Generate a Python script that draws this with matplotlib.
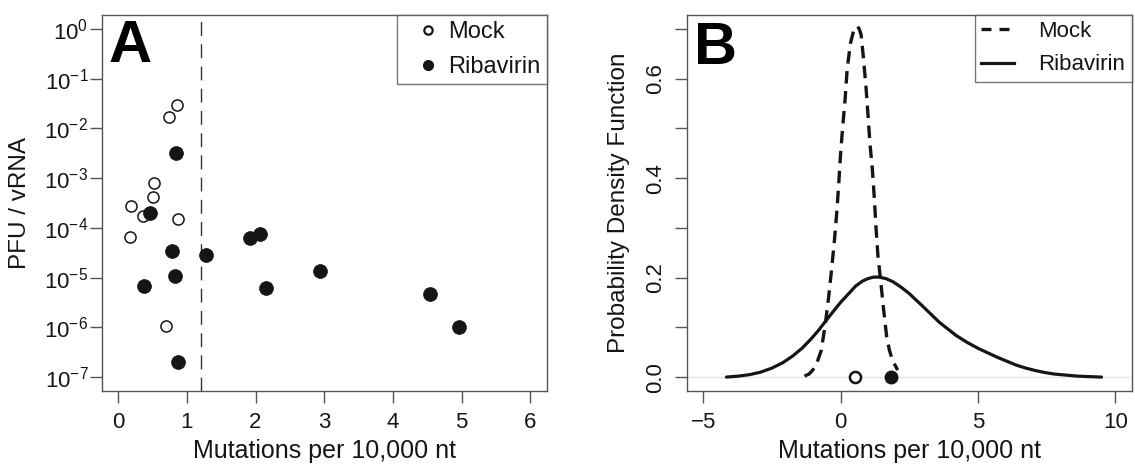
import numpy as np
import matplotlib
matplotlib.use("Agg")
import matplotlib.pyplot as plt
from matplotlib.lines import Line2D

plt.rcParams['font.family'] = ['Liberation Sans', 'DejaVu Sans']
plt.rcParams['mathtext.default'] = 'regular'

# panel A: PFU / vRNA vs mutation frequency
mock_x = [0.86, 0.74, 0.52, 0.50, 0.19, 0.36, 0.87, 0.17, 0.69]
mock_y = [2.9e-2, 1.66e-2, 7.8e-4, 4.1e-4, 2.7e-4, 1.74e-4, 1.48e-4, 6.6e-5, 1.07e-6]
riba_x = [0.84, 0.47, 0.79, 0.83, 0.37, 0.87, 1.28, 1.92, 2.07, 2.15, 2.94, 4.54, 4.97]
riba_y = [3.2e-3, 2.0e-4, 3.5e-5, 1.07e-5, 6.9e-6, 2.0e-7, 2.8e-5, 6.2e-5, 7.6e-5,
          6.3e-6, 1.35e-5, 4.7e-6, 1.0e-6]
cutoff_x = 1.2

# panel B: density curves
mock_pdf_x = [-1.31, -1.15, -1.01, -0.85, -0.70, -0.55, -0.43, -0.32, -0.22, -0.13, -0.06,
              0.00, 0.08, 0.17, 0.24, 0.36, 0.48, 0.55, 0.62, 0.68, 0.75, 0.84, 0.93,
              1.00, 1.07, 1.16, 1.23, 1.29, 1.36, 1.47, 1.57, 1.68, 1.78, 1.89, 2.08]
mock_pdf_y = [0.002, 0.006, 0.014, 0.030, 0.054, 0.108, 0.162, 0.219, 0.276, 0.336, 0.393,
              0.447, 0.504, 0.561, 0.618, 0.671, 0.697, 0.704, 0.705, 0.700, 0.688, 0.638,
              0.581, 0.527, 0.470, 0.417, 0.360, 0.302, 0.245, 0.189, 0.135, 0.081, 0.054,
              0.034, 0.014]
riba_pdf_x = [-4.15, -3.7, -3.3, -2.9, -2.5, -2.1, -1.75, -1.4, -1.1, -0.8, -0.55, -0.25,
              0.0, 0.3, 0.55, 0.8, 1.0, 1.2, 1.4, 1.65, 1.9, 2.2, 2.5, 2.75, 3.0, 3.3,
              3.6, 3.9, 4.2, 4.6, 5.0, 5.35, 5.7, 6.05, 6.4, 6.75, 7.1, 7.45, 7.8, 8.2,
              8.6, 9.0, 9.5]
riba_pdf_y = [0.000, 0.002, 0.005, 0.010, 0.018, 0.029, 0.042, 0.058, 0.075, 0.094, 0.112,
              0.133, 0.150, 0.168, 0.183, 0.193, 0.198, 0.201, 0.201, 0.198, 0.192, 0.181,
              0.168, 0.155, 0.142, 0.126, 0.110, 0.097, 0.084, 0.070, 0.058, 0.049, 0.040,
              0.032, 0.024, 0.018, 0.013, 0.009, 0.006, 0.004, 0.002, 0.001, 0.000]
mean_mock = 0.54
mean_riba = 1.84

spine_col = '#555555'
ink = '#151515'
W, H = 1135, 470

fig = plt.figure(figsize=(W / 100, H / 100), dpi=100)
axA = fig.add_axes([101.7 / W, 79 / H, 445 / W, 376 / H])
axB = fig.add_axes([686.7 / W, 79 / H, 445 / W, 376 / H])

for ax in (axA, axB):
    for s in ax.spines.values():
        s.set_color(spine_col)
        s.set_linewidth(1.0)
    ax.tick_params(direction='out', length=8.6, width=1.0, color=spine_col,
                   labelsize=16, labelcolor=ink)
    ax.tick_params(axis='x', pad=6.7)

# ---- A ----
axA.set_yscale('log')
axA.axvline(cutoff_x, color='#333333', lw=1.0, dashes=(10, 6))
axA.plot(mock_x, mock_y, 'o', ms=8, mfc='white', mec=ink, mew=1.1, ls='none')
axA.plot(riba_x, riba_y, 'o', ms=10, mfc=ink, mec=ink, mew=0.5, ls='none')
axA.set_xlim(-0.24, 6.24)
axA.set_ylim(10 ** -7.28, 10 ** 0.28)
axA.set_xticks(range(0, 7))
yt = [10.0 ** -k for k in range(0, 8)]
axA.set_yticks(yt)
axA.set_yticklabels([r'$10^{%d}$' % (-k) for k in range(0, 8)])
axA.yaxis.set_minor_locator(matplotlib.ticker.NullLocator())
axA.tick_params(axis='y', pad=1)
axA.set_xlabel('Mutations per 10,000 nt', fontsize=18, color=ink, va='center')
axA.xaxis.set_label_coords(0.5, -0.16)
axA.set_ylabel('PFU / vRNA', fontsize=17.5, color=ink, va='center')
axA.yaxis.set_label_coords(-0.1836, 0.5)
axA.text(0.016, 0.915, 'A', transform=axA.transAxes, fontsize=43,
         fontweight='bold', ha='left', va='center', color='black')
hA = [Line2D([], [], marker='o', ls='none', ms=6, mfc='white', mec=ink, mew=1.6),
      Line2D([], [], marker='o', ls='none', ms=7, mfc=ink, mec=ink)]
legA = axA.legend(hA, ['Mock', 'Ribavirin'], loc='upper right', borderaxespad=0,
                  fancybox=False, frameon=True, edgecolor=spine_col, fontsize=17,
                  handlelength=2.1, handletextpad=-0.2, borderpad=0.27,
                  labelspacing=0.53)
legA.get_frame().set_linewidth(1.0)
for t in legA.get_texts():
    t.set_color(ink)

# ---- B ----
axB.axhline(0, color='#e4e4e4', lw=1.0, zorder=0)
axB.plot(mock_pdf_x, mock_pdf_y, color=ink, lw=2.4, dashes=(3.75, 2.25))
axB.plot(riba_pdf_x, riba_pdf_y, color=ink, lw=2.3, solid_capstyle='round')
axB.plot([mean_mock], [0], 'o', ms=8, mfc='white', mec=ink, mew=1.8)
axB.plot([mean_riba], [0], 'o', ms=9, mfc=ink, mec=ink)
axB.set_xlim(-5.6, 10.6)
axB.set_ylim(-0.028, 0.728)
axB.set_xticks([-5, 0, 5, 10])
axB.set_yticks([0.0, 0.1, 0.2, 0.3, 0.4, 0.5, 0.6, 0.7])
axB.set_yticklabels(['0.0', '', '0.2', '', '0.4', '', '0.6', ''], rotation=90,
                    va='center')
axB.tick_params(axis='y', pad=6.5)
axB.set_xlabel('Mutations per 10,000 nt', fontsize=18, color=ink, va='center')
axB.xaxis.set_label_coords(0.5, -0.16)
axB.set_ylabel('Probability Density Function', fontsize=17.5, color=ink, va='center')
axB.yaxis.set_label_coords(-0.1526, 0.5)
axB.text(0.016, 0.91, 'B', transform=axB.transAxes, fontsize=43,
         fontweight='bold', ha='left', va='center', color='black')
hB = [Line2D([], [], color=ink, lw=2.4, dashes=(3.0, 2.4)),
      Line2D([], [], color=ink, lw=2.3)]
legB = axB.legend(hB, ['Mock', 'Ribavirin'], loc='upper right', borderaxespad=0,
                  fancybox=False, frameon=True, edgecolor=spine_col, fontsize=16,
                  handlelength=1.5, handletextpad=1.1, borderpad=0.28,
                  labelspacing=0.55)
legB.get_frame().set_linewidth(1.0)
for t in legB.get_texts():
    t.set_color(ink)

fig.savefig('out.png', dpi=100)
